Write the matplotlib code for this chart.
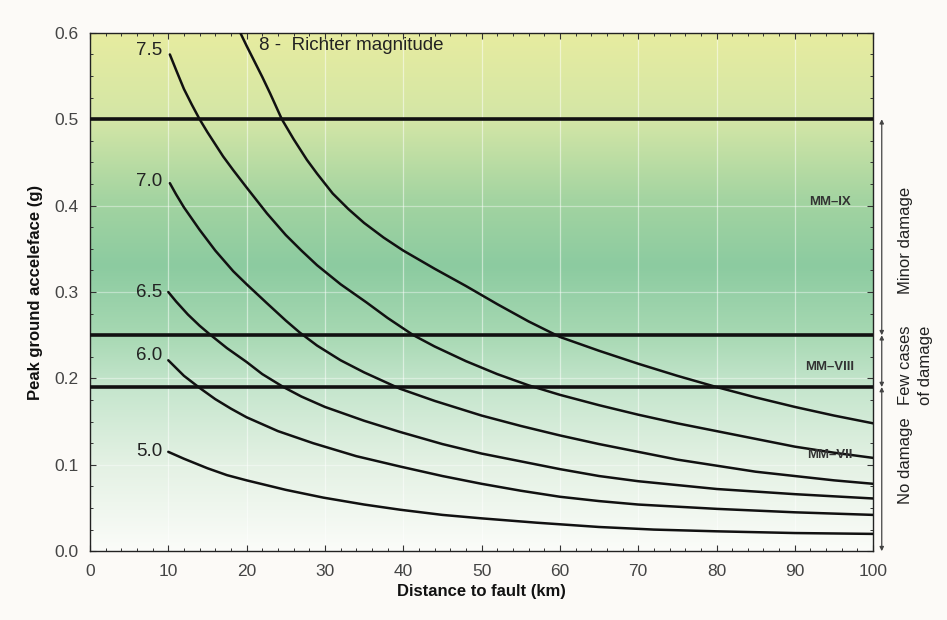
import numpy as np
import matplotlib
matplotlib.use("Agg")
import matplotlib.pyplot as plt
from matplotlib.colors import LinearSegmentedColormap
from matplotlib.ticker import AutoMinorLocator
import matplotlib.transforms as mtrans

plt.rcParams['font.family'] = ['Liberation Sans', 'DejaVu Sans']

# ---- data ----
x_m8 = [19.2, 20, 21, 22, 23, 24.5, 26, 27.7, 29, 31, 33, 35, 37.5, 40, 44, 48,
        52, 56, 60, 65, 70, 75, 80, 85, 90, 95, 100]
y_m8 = [0.600, 0.585, 0.567, 0.549, 0.530, 0.500, 0.477, 0.453, 0.437, 0.414, 0.396,
        0.380, 0.363, 0.348, 0.327, 0.307, 0.286, 0.266, 0.248, 0.232, 0.217, 0.203,
        0.190, 0.178, 0.167, 0.157, 0.148]

x_m75 = [10.2, 11, 12, 13, 14, 15, 16, 17, 18.3, 20, 22.6, 25, 27, 29, 32, 35.3, 38,
         41.3, 44, 48, 52, 56, 60, 65, 70, 75, 80, 85, 90, 95, 100]
y_m75 = [0.575, 0.557, 0.535, 0.517, 0.500, 0.485, 0.471, 0.457, 0.441, 0.421, 0.391,
         0.366, 0.348, 0.331, 0.309, 0.288, 0.270, 0.250, 0.237, 0.220, 0.205, 0.192,
         0.181, 0.169, 0.158, 0.148, 0.139, 0.130, 0.121, 0.114, 0.108]

x_m70 = [10.2, 11, 12, 13, 14, 16, 18.3, 20, 22.6, 25, 26.8, 29, 32, 35, 39.6, 44,
         50, 55, 60, 65, 70, 75, 80, 85, 90, 95, 100]
y_m70 = [0.426, 0.413, 0.398, 0.385, 0.372, 0.348, 0.324, 0.309, 0.287, 0.267, 0.253,
         0.238, 0.221, 0.207, 0.188, 0.174, 0.157, 0.145, 0.134, 0.124, 0.115, 0.106,
         0.099, 0.092, 0.087, 0.082, 0.078]

x_m65 = [10, 11, 12.5, 14, 15.3, 17.5, 20, 22, 24.7, 27, 30, 35, 39.6, 45, 50, 55,
         60, 65, 70, 80, 90, 100]
y_m65 = [0.300, 0.289, 0.274, 0.261, 0.251, 0.235, 0.219, 0.205, 0.190, 0.179, 0.167,
         0.151, 0.138, 0.124, 0.113, 0.104, 0.095, 0.087, 0.081, 0.072, 0.066, 0.061]

x_m60 = [10, 11, 12, 13, 14, 16, 18, 20, 24, 28.5, 34, 39.6, 45, 50, 55, 60, 65,
         70, 80, 90, 100]
y_m60 = [0.221, 0.212, 0.203, 0.196, 0.189, 0.176, 0.165, 0.155, 0.139, 0.125, 0.110,
         0.098, 0.087, 0.078, 0.070, 0.063, 0.058, 0.054, 0.049, 0.045, 0.042]

x_m50 = [10, 12, 15, 17.5, 20, 25, 29.8, 35, 39.6, 45, 50, 57, 65, 72, 80, 90, 100]
y_m50 = [0.115, 0.107, 0.096, 0.088, 0.082, 0.071, 0.062, 0.054, 0.048, 0.042, 0.038,
         0.033, 0.028, 0.025, 0.023, 0.021, 0.020]

curve_labels = ["7.5", "7.0", "6.5", "6.0", "5.0"]
curve_label_y = [0.58, 0.428, 0.299, 0.227, 0.115]

thresholds = [0.5, 0.25, 0.19]
mm_labels = ["MM–IX", "MM–VIII", "MM–VII"]
mm_label_y = [0.404, 0.213, 0.111]

damage_labels = ["Minor damage", "Few cases\nof damage", "No damage"]
damage_y = [0.36, 0.215, 0.105]

x_ticks = [0, 10, 20, 30, 40, 50, 60, 70, 80, 90, 100]
y_ticks = [0.0, 0.1, 0.2, 0.3, 0.4, 0.5, 0.6]

# ---- figure ----
fig = plt.figure(figsize=(9.47, 6.2), dpi=100)
fig.patch.set_facecolor('#fcfaf7')
ax = fig.add_axes([0.095, 0.111, 0.827, 0.836])

# background gradient
stops = [(0.0, '#fbfcf9'), (0.17, '#e3f1e3'), (0.32, '#c4e5cc'),
         (0.42, '#a6d8b2'), (0.55, '#8ccba0'), (0.68, '#a4d4a1'),
         (0.83, '#d3e6a6'), (1.0, '#e7eca0')]
cmap = LinearSegmentedColormap.from_list('bg', stops)
grad = np.linspace(0, 1, 256).reshape(-1, 1)
ax.imshow(grad, cmap=cmap, aspect='auto', origin='lower',
          extent=[0, 100, 0, 0.6], zorder=0, interpolation='bicubic')

ax.set_xlim(0, 100)
ax.set_ylim(0, 0.6)

# faint white grid
for xv in x_ticks[1:-1]:
    ax.axvline(xv, color='white', lw=0.9, alpha=0.5, zorder=1)
for yv in y_ticks[1:-1]:
    ax.axhline(yv, color='white', lw=0.9, alpha=0.4, zorder=1)

# threshold lines
for t in thresholds:
    ax.axhline(t, color='#111111', lw=2.6, zorder=3)

# curves
for xs, ys in [(x_m8, y_m8), (x_m75, y_m75), (x_m70, y_m70),
               (x_m65, y_m65), (x_m60, y_m60), (x_m50, y_m50)]:
    ax.plot(xs, ys, color='#111111', lw=1.8, zorder=4, solid_capstyle='round',
            solid_joinstyle='round')

for lab, yv in zip(curve_labels, curve_label_y):
    ax.text(9.2, yv, lab, fontsize=13.5, ha='right', va='center', color='#222222', zorder=5)
ax.text(21.6, 0.585, "8 -  Richter magnitude", fontsize=13.5, ha='left', va='center',
        color='#222222', zorder=5)

for lab, yv in zip(mm_labels, mm_label_y):
    ax.text(94.5, yv, lab, fontsize=9.5, fontweight='bold', ha='center', va='center',
            color='#333333', zorder=5)

# ticks
ax.set_xticks(x_ticks)
ax.set_yticks(y_ticks)
ax.set_yticklabels([f"{v:.1f}" for v in y_ticks])
ax.xaxis.set_minor_locator(AutoMinorLocator(5))
ax.yaxis.set_minor_locator(AutoMinorLocator(4))
ax.tick_params(which='both', direction='in', top=True, right=True, colors='#333333',
               labelcolor='#444444', labelsize=12.5)
ax.tick_params(which='major', length=4, width=0.8)
ax.tick_params(which='minor', length=2.5, width=0.7)
ax.tick_params(axis='x', pad=9)
ax.tick_params(axis='y', pad=8)
for s in ax.spines.values():
    s.set_color('#222222')
    s.set_linewidth(1.0)

ax.set_xlabel("Distance to fault (km)", fontsize=12, fontweight='bold', color='#111111', labelpad=4)
ax.set_ylabel("Peak ground acceleface (g)", fontsize=12, fontweight='bold', color='#111111', labelpad=8)

# right-side damage annotation
trans = mtrans.blended_transform_factory(ax.transAxes, ax.transData)
bands = [(0.0, thresholds[2]), (thresholds[2], thresholds[1]), (thresholds[1], thresholds[0])]
for lo, hi in bands:
    ax.annotate("", xy=(1.011, lo), xytext=(1.011, hi), xycoords=trans, textcoords=trans,
                arrowprops=dict(arrowstyle='<|-|>', color='#444444', lw=0.9,
                                mutation_scale=6, shrinkA=0, shrinkB=0),
                annotation_clip=False)
ax.text(1.041, damage_y[0], damage_labels[0], transform=trans, rotation=90, fontsize=12,
        ha='center', va='center', color='#222222')
ax.text(1.054, damage_y[1], damage_labels[1], transform=trans, rotation=90, fontsize=12,
        ha='center', va='center', color='#222222', linespacing=1.35)
ax.text(1.041, damage_y[2], damage_labels[2], transform=trans, rotation=90, fontsize=12,
        ha='center', va='center', color='#222222')

fig.savefig("out.png", dpi=100, facecolor=fig.get_facecolor())
